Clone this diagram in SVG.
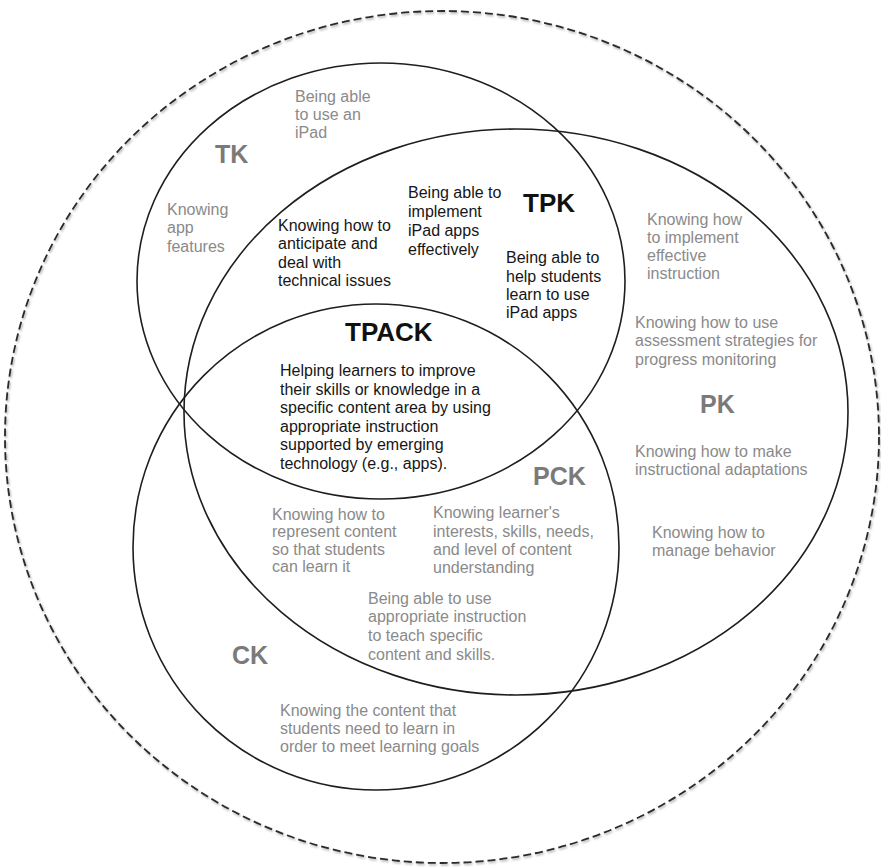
<svg xmlns="http://www.w3.org/2000/svg" width="881" height="867" viewBox="0 0 881 867">
<defs>
<style>
.ring{fill:none;stroke:#1e1e1e;stroke-width:1.6}
.dash{fill:none;stroke:#2a2a2a;stroke-width:1.8;stroke-dasharray:8 4}
text{font-family:"Liberation Sans",Arial,Helvetica,sans-serif}
.g{font-size:16px;fill:#8a8a8a}
.b{font-size:16px;fill:#161616}
.lg{font-size:25px;font-weight:bold;fill:#7a7a7a}
.lb{font-size:26px;font-weight:bold;fill:#111}
</style>
<filter id="sh" x="-5%" y="-5%" width="110%" height="110%">
<feDropShadow dx="1" dy="1.5" stdDeviation="1" flood-color="#000" flood-opacity="0.35"/>
</filter>
</defs>
<rect width="881" height="867" fill="#fff"/>
<g id="context">
<ellipse class="dash" cx="442" cy="437" rx="437" ry="426" filter="url(#sh)"/>
</g>
<g id="TK">
<ellipse class="ring" cx="381" cy="281" rx="244" ry="218"/>
<text class="lg" x="215" y="163">TK</text>
<text class="g"><tspan x="295" y="102">Being able</tspan><tspan x="295" y="120">to use an</tspan><tspan x="295" y="138">iPad</tspan></text>
<text class="g"><tspan x="167" y="215">Knowing</tspan><tspan x="167" y="233">app</tspan><tspan x="167" y="252">features</tspan></text>
</g>
<g id="PK">
<ellipse class="ring" cx="516" cy="412" rx="332" ry="283"/>
<text class="lg" x="700" y="413">PK</text>
<text class="g"><tspan x="647" y="225">Knowing how</tspan><tspan x="647" y="243">to implement</tspan><tspan x="647" y="261">effective</tspan><tspan x="647" y="279">instruction</tspan></text>
<text class="g"><tspan x="635" y="328">Knowing how to use</tspan><tspan x="635" y="346">assessment strategies for</tspan><tspan x="635" y="365">progress monitoring</tspan></text>
<text class="g"><tspan x="635" y="457">Knowing how to make</tspan><tspan x="635" y="475">instructional adaptations</tspan></text>
<text class="g"><tspan x="652" y="538">Knowing how to</tspan><tspan x="652" y="556">manage behavior</tspan></text>
</g>
<g id="CK">
<ellipse class="ring" cx="376" cy="547" rx="243" ry="243"/>
<text class="lg" x="232" y="664">CK</text>
<text class="g"><tspan x="280" y="716">Knowing the content that</tspan><tspan x="280" y="734">students need to learn in</tspan><tspan x="280" y="752">order to meet learning goals</tspan></text>
</g>
<g id="TPK">
<text class="lb" x="523" y="212">TPK</text>
<text class="b"><tspan x="278" y="231">Knowing how to</tspan><tspan x="278" y="249">anticipate and</tspan><tspan x="278" y="268">deal with</tspan><tspan x="278" y="286">technical issues</tspan></text>
<text class="b"><tspan x="408" y="198">Being able to</tspan><tspan x="408" y="217">implement</tspan><tspan x="408" y="236">iPad apps</tspan><tspan x="408" y="255">effectively</tspan></text>
<text class="b"><tspan x="506" y="263">Being able to</tspan><tspan x="506" y="282">help students</tspan><tspan x="506" y="300">learn to use</tspan><tspan x="506" y="318">iPad apps</tspan></text>
</g>
<g id="PCK">
<text class="lg" x="533" y="485">PCK</text>
<text class="g"><tspan x="272" y="520">Knowing how to</tspan><tspan x="272" y="537">represent content</tspan><tspan x="272" y="555">so that students</tspan><tspan x="272" y="572">can learn it</tspan></text>
<text class="g"><tspan x="433" y="518">Knowing learner's</tspan><tspan x="433" y="537">interests, skills, needs,</tspan><tspan x="433" y="555">and level of content</tspan><tspan x="433" y="573">understanding</tspan></text>
<text class="g"><tspan x="368" y="604">Being able to use</tspan><tspan x="368" y="622">appropriate instruction</tspan><tspan x="368" y="641">to teach specific</tspan><tspan x="368" y="660">content and skills.</tspan></text>
</g>
<g id="TPACK">
<text class="lb" x="345" y="341">TPACK</text>
<text class="b"><tspan x="280" y="376">Helping learners to improve</tspan><tspan x="280" y="394.5">their skills or knowledge in a</tspan><tspan x="280" y="413">specific content area by using</tspan><tspan x="280" y="431.5">appropriate instruction</tspan><tspan x="280" y="450">supported by emerging</tspan><tspan x="280" y="468.5">technology (e.g., apps).</tspan></text>
</g>
</svg>
